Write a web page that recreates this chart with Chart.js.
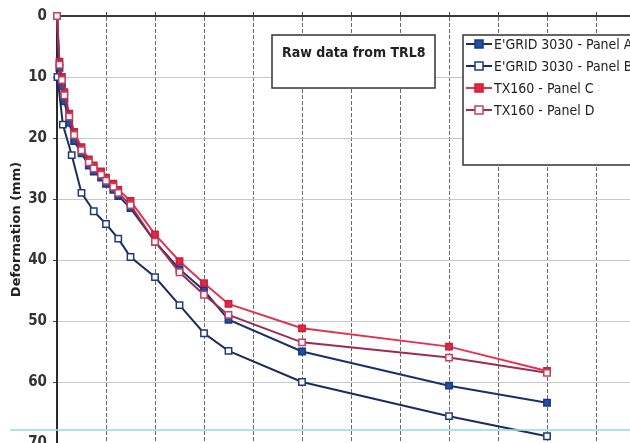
<!DOCTYPE html>
<html>
<head>
<meta charset="utf-8">
<script src="https://cdn.jsdelivr.net/npm/chart.js@4/dist/chart.umd.min.js"></script>
<style>
  html, body { margin: 0; padding: 0; background: #fff; overflow: hidden; }
  #wrap { position: relative; width: 660px; height: 460px; }
</style>
</head>
<body>
<div id="wrap"><canvas id="c" width="660" height="460"></canvas></div>
<script>
// Number of passes (x) and deformation in mm (y) for each panel
const passesAC = [0, 5, 10, 15, 25, 35, 50, 65, 75, 90, 100, 115, 125, 150, 200, 250, 300, 350, 500, 800, 1000];
const panelA = [0, 8.5, 11.5, 14, 17.5, 20.5, 22.5, 24.5, 25.5, 26.5, 27.5, 28.5, 29.5, 31.5, 37, 41.5, 45, 49.8, 55, 60.6, 63.4];
const panelC = [0, 7.5, 10, 12.5, 16, 19, 21.5, 23.5, 24.5, 25.5, 26.5, 27.5, 28.5, 30.3, 35.8, 40.2, 43.8, 47.2, 51.2, 54.2, 58.2];
const panelD = [0, 8, 10.5, 13, 16.5, 19.5, 22, 24, 25, 26, 27, 28, 29, 31, 37, 42, 45.7, 49, 53.5, 56, 58.5];
const passesB = [0, 1, 12, 30, 50, 75, 100, 125, 150, 200, 250, 300, 350, 500, 800, 1000];
const panelB = [0, 10, 17.8, 22.8, 29, 32, 34.1, 36.5, 39.5, 42.8, 47.4, 52, 54.9, 60, 65.6, 68.9];

const seriesNames = ["E'GRID 3030 - Panel A", "E'GRID 3030 - Panel B", "TX160 - Panel C", "TX160 - Panel D"];
const yTicks = [0, 10, 20, 30, 40, 50, 60, 70];
const noteText = "Raw data from TRL8";
const yTitle = "Deformation (mm)";

const narrow = "'Liberation Sans Narrow', 'DejaVu Sans Condensed', 'Liberation Sans', sans-serif";

function pts(xs, ys) { return xs.map((x, i) => ({ x: x, y: ys[i] })); }

// lower order is drawn last (on top)
const styles = [
  { line: '#1b2f6c', fill: '#2150a8', border: '#1a3680', order: 2 },
  { line: '#1d2b5e', fill: '#ffffff', border: '#1f3a7c', order: 3 },
  { line: '#e2344f', fill: '#e02844', border: '#c8203c', order: 1 },
  { line: '#9c2d52', fill: '#ffffff', border: '#c4405e', order: 0 }
];

const seriesData = [pts(passesAC, panelA), pts(passesB, panelB), pts(passesAC, panelC), pts(passesAC, panelD)];

const datasets = seriesNames.map((name, i) => ({
  label: name,
  data: seriesData[i],
  borderColor: styles[i].line,
  borderWidth: 2,
  pointStyle: 'rect',
  pointRadius: 4.5,
  pointBackgroundColor: styles[i].fill,
  pointBorderColor: styles[i].border,
  pointBorderWidth: 1.5,
  tension: 0,
  clip: false,
  order: styles[i].order
}));

// Note box, legend box and a faint cyan rule drawn over the plot
const overlay = {
  id: 'overlay',
  afterDraw(chart) {
    const ctx = chart.ctx;
    ctx.save();

    // cyan rule near the bottom
    ctx.strokeStyle = 'rgba(150,220,230,0.8)';
    ctx.lineWidth = 2;
    ctx.beginPath(); ctx.moveTo(10, 430); ctx.lineTo(660, 430); ctx.stroke();

    // note box
    ctx.fillStyle = '#fff';
    ctx.fillRect(272, 35, 163, 53);
    ctx.strokeStyle = '#333';
    ctx.lineWidth = 1.5;
    ctx.strokeRect(272, 35, 163, 53);
    ctx.fillStyle = '#222';
    ctx.font = 'bold 14px ' + narrow;
    ctx.textBaseline = 'middle';
    ctx.textAlign = 'left';
    ctx.fillText(noteText, 282, 53);

    // legend box
    ctx.fillStyle = '#fff';
    ctx.fillRect(463, 35, 200, 130);
    ctx.strokeStyle = '#333';
    ctx.strokeRect(463, 35, 200, 130);
    const rows = [44, 66, 88, 110];
    ctx.font = '14px ' + narrow;
    seriesNames.forEach((name, i) => {
      const y = rows[i];
      const s = styles[i];
      ctx.strokeStyle = s.line;
      ctx.lineWidth = 2;
      ctx.beginPath(); ctx.moveTo(466, y); ctx.lineTo(492, y); ctx.stroke();
      ctx.fillStyle = s.fill;
      ctx.fillRect(475, y - 4, 8, 8);
      ctx.strokeStyle = s.border;
      ctx.lineWidth = 1.5;
      ctx.strokeRect(475, y - 4, 8, 8);
      ctx.fillStyle = '#222';
      ctx.fillText(name, 494, y + 1);
    });
    ctx.restore();
  }
};

new Chart(document.getElementById('c'), {
  type: 'line',
  data: { datasets: datasets },
  options: {
    responsive: false,
    animation: false,
    devicePixelRatio: 1,
    layout: { padding: { left: 0, top: 0, right: 15, bottom: 17 } },
    plugins: { legend: { display: false }, tooltip: { enabled: false } },
    scales: {
      x: {
        type: 'linear',
        position: 'top',
        min: 0, max: 1200,
        ticks: { display: false, stepSize: 100 },
        grid: { color: '#6a6a6a', lineWidth: 1, tickLength: 4, tickColor: '#444' },
        border: { color: '#3a3a3a', width: 2, dash: [4, 2] },
        afterFit(scale) { scale.height = 16; }
      },
      y: {
        type: 'linear',
        reverse: true,
        min: 0, max: 70,
        afterBuildTicks(scale) { scale.ticks = yTicks.map(v => ({ value: v })); },
        ticks: { color: '#333', font: { family: narrow, size: 15, weight: 'bold' }, padding: 6 },
        grid: { color: '#c8c8c8', lineWidth: 1, tickLength: 4, tickColor: '#444' },
        border: { color: '#2a2a2a', width: 2 },
        title: { display: true, text: yTitle, color: '#222', font: { family: "'DejaVu Sans', sans-serif", size: 13, weight: 'bold' }, padding: { top: 9, bottom: 0 } },
        afterFit(scale) { scale.width = 57; }
      }
    }
  },
  plugins: [overlay]
});
</script>
</body>
</html>
